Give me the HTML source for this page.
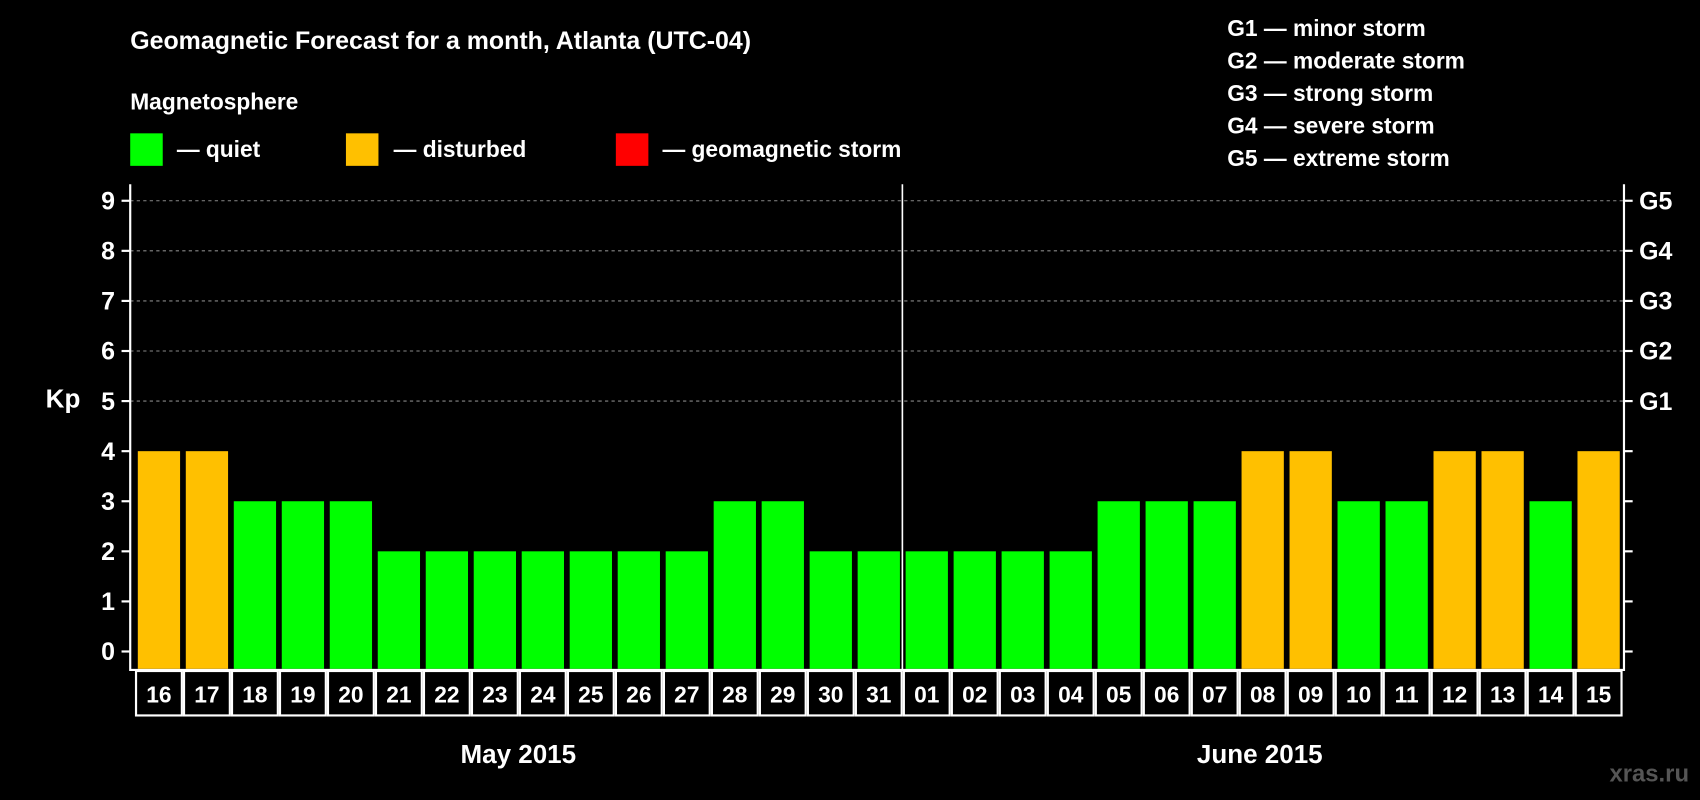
<!DOCTYPE html>
<html><head><meta charset="utf-8"><style>
html,body{margin:0;padding:0;background:#000;}
svg{display:block;font-family:"Liberation Sans",Arial,sans-serif;font-weight:bold;}
</style></head><body>
<svg id="chart" width="1700" height="800" viewBox="0 0 1568 738" xmlns="http://www.w3.org/2000/svg">
<rect width="1568" height="738" fill="#000"/>
<text x="120" y="45" fill="#fff" font-size="23">Geomagnetic Forecast for a month, Atlanta (UTC-04)</text>
<text x="120" y="101" fill="#fff" font-size="21">Magnetosphere</text>
<g><rect x="120" y="123" width="30" height="30" fill="#00ff00"/><text x="163" y="145" fill="#fff" font-size="21">— quiet</text></g>
<g><rect x="319" y="123" width="30" height="30" fill="#ffc000"/><text x="363" y="145" fill="#fff" font-size="21">— disturbed</text></g>
<g><rect x="568" y="123" width="30" height="30" fill="#ff0000"/><text x="611" y="145" fill="#fff" font-size="21">— geomagnetic storm</text></g>
<g fill="#fff" font-size="21">
<text x="1132" y="33">G1 — minor storm</text><text x="1132" y="63">G2 — moderate storm</text><text x="1132" y="93">G3 — strong storm</text><text x="1132" y="123">G4 — severe storm</text><text x="1132" y="153">G5 — extreme storm</text>
</g>
<text x="58" y="376" fill="#fff" font-size="24" text-anchor="middle">Kp</text>
<g id="plot"></g>
<text x="478" y="704" fill="#fff" font-size="24" text-anchor="middle">May 2015</text>
<text x="1162" y="704" fill="#fff" font-size="24" text-anchor="middle">June 2015</text>
<text x="1558" y="721" fill="#555" font-size="22" text-anchor="end">xras.ru</text>
</svg>
<script>
const days = ["16","17","18","19","20","21","22","23","24","25","26","27","28","29","30","31","01","02","03","04","05","06","07","08","09","10","11","12","13","14","15"];
const kp = [4,4,3,3,3,2,2,2,2,2,2,2,3,3,2,2,2,2,2,2,3,3,3,4,4,3,3,4,4,3,4];
const yTicks = [0,1,2,3,4,5,6,7,8,9];
const gLevels = ["G1","G2","G3","G4","G5"];
const NS="http://www.w3.org/2000/svg";
const L=120,R=1498,T=170,B=618,step=44.27,x0=127,bw=39;
const y=v=>601-v*46.2;
const xb=i=>x0+i*step;
const g=document.getElementById('plot');
function mk(t,a){const e=document.createElementNS(NS,t);for(const k in a)e.setAttribute(k,a[k]);g.appendChild(e);return e;}
// grid
yTicks.forEach(v=>{
 if(v>=5){const l=mk('line',{x1:L,x2:R,y1:y(v),y2:y(v),stroke:'#888','stroke-dasharray':'3,3','stroke-width':1});
 
 }
 const t1=mk('line',{x1:L-8,x2:L,y1:y(v),y2:y(v),stroke:'#fff','stroke-width':2});
 
 
 const t2=mk('line',{x1:R,x2:R+8,y1:y(v),y2:y(v),stroke:'#fff','stroke-width':2});
 
 
 const tx=mk('text',{x:L-14,y:y(v)+8,fill:'#fff','font-size':23,'text-anchor':'end'});tx.textContent=v;
 
 
});
gLevels.forEach((s,i)=>{const tx=mk('text',{x:R+14,y:y(i+5)+8,fill:'#fff','font-size':23});tx.textContent=s;
 
 });
// bars
kp.forEach((v,i)=>{
 const c=v>=5?'#ff0000':(v>=4?'#ffc000':'#00ff00');
 const r=mk('rect',{x:xb(i),y:y(v),width:bw,height:B-1-y(v),fill:c});
 
 
});
// axes
const ax=mk('path',{d:`M${L},${T}V${B}H${R}V${T}`,fill:'none',stroke:'#fff','stroke-width':2});


const dv=mk('line',{x1:xb(16)-3,x2:xb(16)-3,y1:T,y2:B,stroke:'#fff','stroke-width':1.5});


// date cells
days.forEach((d,i)=>{
 const cx=xb(i)+bw/2;
 const r=mk('rect',{x:cx-step/2+1,y:B+1,width:step-2,height:41,fill:'none',stroke:'#fff','stroke-width':2});
 
 
 const t=mk('text',{x:cx,y:B+30,fill:'#fff','font-size':21,'text-anchor':'middle'});t.textContent=d;
 
 
});
</script>
</body></html>
